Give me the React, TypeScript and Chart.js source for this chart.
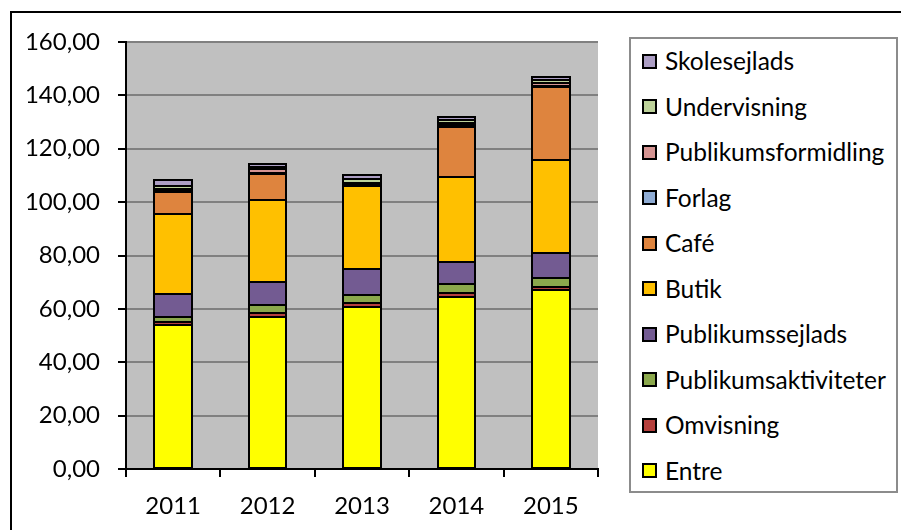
import React, { useEffect, useRef } from "react";
import { Chart, registerables } from "chart.js";

Chart.register(...registerables);

const years = ["2011", "2012", "2013", "2014", "2015"];

const seriesNames = [
  "Entre",
  "Omvisning",
  "Publikumsaktiviteter",
  "Publikumssejlads",
  "Butik",
  "Café",
  "Forlag",
  "Publikumsformidling",
  "Undervisning",
  "Skolesejlads",
];

const entre = [54.0, 57.1, 60.8, 64.6, 67.0];
const omvisning = [1.2, 1.4, 1.3, 1.3, 1.3];
const publikumsaktiviteter = [1.9, 2.8, 3.0, 3.3, 3.1];
const publikumssejlads = [8.4, 8.9, 9.8, 8.5, 9.4];
const butik = [29.9, 30.6, 31.2, 31.8, 35.0];
const cafe = [8.3, 9.7, 0, 18.8, 27.4];
const forlag = [0.5, 0.6, 0.4, 0.5, 0.5];
const publikumsformidling = [0.8, 1.2, 0.8, 1.0, 1.0];
const undervisning = [1.1, 0.9, 1.2, 0.8, 1.2];
const skolesejlads = [2.1, 1.2, 1.8, 1.3, 0.9];

const seriesValues = [
  entre,
  omvisning,
  publikumsaktiviteter,
  publikumssejlads,
  butik,
  cafe,
  forlag,
  publikumsformidling,
  undervisning,
  skolesejlads,
];

const seriesColors = [
  "#FFFF00",
  "#B5403D",
  "#8BA84C",
  "#735B92",
  "#FFC000",
  "#DE843E",
  "#8EABD3",
  "#D59492",
  "#BDD29A",
  "#AC9EC4",
];

const yMin = 0;
const yMax = 160;
const yStep = 20;

const FONT = "Lato";

const plotBg = {
  id: "plotBg",
  beforeDraw(chart: any) {
    const { ctx, chartArea } = chart;
    ctx.save();
    ctx.fillStyle = "#C0C0C0";
    ctx.fillRect(chartArea.left, chartArea.top, chartArea.right - chartArea.left, chartArea.bottom - chartArea.top);
    ctx.restore();
  },
};

// Excel-style segment outlines: 2px black strokes centred on each segment's edges
const segmentOutline = {
  id: "segmentOutline",
  afterDatasetsDraw(chart: any) {
    const { ctx } = chart;
    ctx.save();
    ctx.strokeStyle = "#000";
    ctx.lineWidth = 2;
    chart.data.datasets.forEach((_: any, di: number) => {
      const meta = chart.getDatasetMeta(di);
      meta.data.forEach((el: any) => {
        const left = Math.round(el.x - el.width / 2);
        const right = Math.round(el.x + el.width / 2);
        const top = Math.round(Math.min(el.y, el.base));
        const bottom = Math.round(Math.max(el.y, el.base));
        ctx.strokeRect(left, top, right - left, bottom - top);
      });
    });
    ctx.restore();
  },
};

export default function App() {
  const ref = useRef<HTMLCanvasElement | null>(null);

  useEffect(() => {
    if (!ref.current) return;
    const chart = new Chart(ref.current, {
      type: "bar",
      data: {
        labels: years,
        datasets: seriesNames.map((name, i) => ({
          label: name,
          data: seriesValues[i],
          backgroundColor: seriesColors[i],
          borderWidth: 0,
          inflateAmount: 0,
          barPercentage: 0.4,
          categoryPercentage: 1,
        })),
      },
      options: {
        animation: false,
        responsive: false,
        maintainAspectRatio: false,
        layout: { padding: { left: 0, right: 303, top: 42, bottom: 0 } },
        plugins: {
          legend: { display: false },
          tooltip: { enabled: false },
        },
        scales: {
          x: {
            stacked: true,
            afterFit: (s: any) => {
              s.height = 61;
            },
            grid: {
              drawOnChartArea: false,
              drawTicks: true,
              tickLength: 8,
              tickColor: "#000",
              lineWidth: 2,
              offset: true,
            },
            border: { display: true, color: "#000", width: 2 },
            ticks: {
              color: "#000",
              font: { family: FONT, size: 24 },
              padding: 15,
              maxRotation: 0,
            },
          },
          y: {
            stacked: true,
            min: yMin,
            max: yMax,
            afterFit: (s: any) => {
              s.width = 126;
            },
            grid: {
              color: "#808080",
              lineWidth: 2,
              tickColor: "#000",
              tickLength: 8,
              drawTicks: true,
            },
            border: { display: true, color: "#000", width: 2 },
            ticks: {
              stepSize: yStep,
              color: "#000",
              font: { family: FONT, size: 24 },
              padding: 18,
              callback: (v: any) => Number(v).toFixed(2).replace(".", ","),
            },
          },
        },
      },
      plugins: [plotBg, segmentOutline],
    });
    return () => chart.destroy();
  }, []);

  const legendOrder = seriesNames.map((_, i) => i).reverse();

  return (
    <div style={{ position: "fixed", left: 0, top: 0, width: 901, height: 530, overflow: "hidden", background: "#fff" }}>
      <div
        style={{
          position: "absolute",
          left: 10,
          top: 11,
          width: 1000,
          height: 1000,
          border: "2px solid #000",
          boxSizing: "border-box",
        }}
      />
      <canvas ref={ref} width={901} height={530} style={{ position: "absolute", left: 0, top: 0 }} />
      <div
        style={{
          position: "absolute",
          left: 629,
          top: 37,
          width: 269,
          height: 456,
          border: "2px solid #8C8C8C",
          boxSizing: "border-box",
          background: "#fff",
        }}
      />
      {legendOrder.map((idx, k) => {
        const cy = 61 + k * 45.5;
        return (
          <div key={idx}>
            <div
              style={{
                position: "absolute",
                left: 642,
                top: cy - 7.5,
                width: 15,
                height: 15,
                boxSizing: "border-box",
                border: "2px solid #000",
                background: seriesColors[idx],
              }}
            />
            <div
              style={{
                position: "absolute",
                left: 665,
                top: cy - 15,
                height: 30,
                lineHeight: "30px",
                fontFamily: FONT,
                fontSize: 24.5,
                color: "#000",
                whiteSpace: "nowrap",
              }}
            >
              {seriesNames[idx]}
            </div>
          </div>
        );
      })}
    </div>
  );
}
